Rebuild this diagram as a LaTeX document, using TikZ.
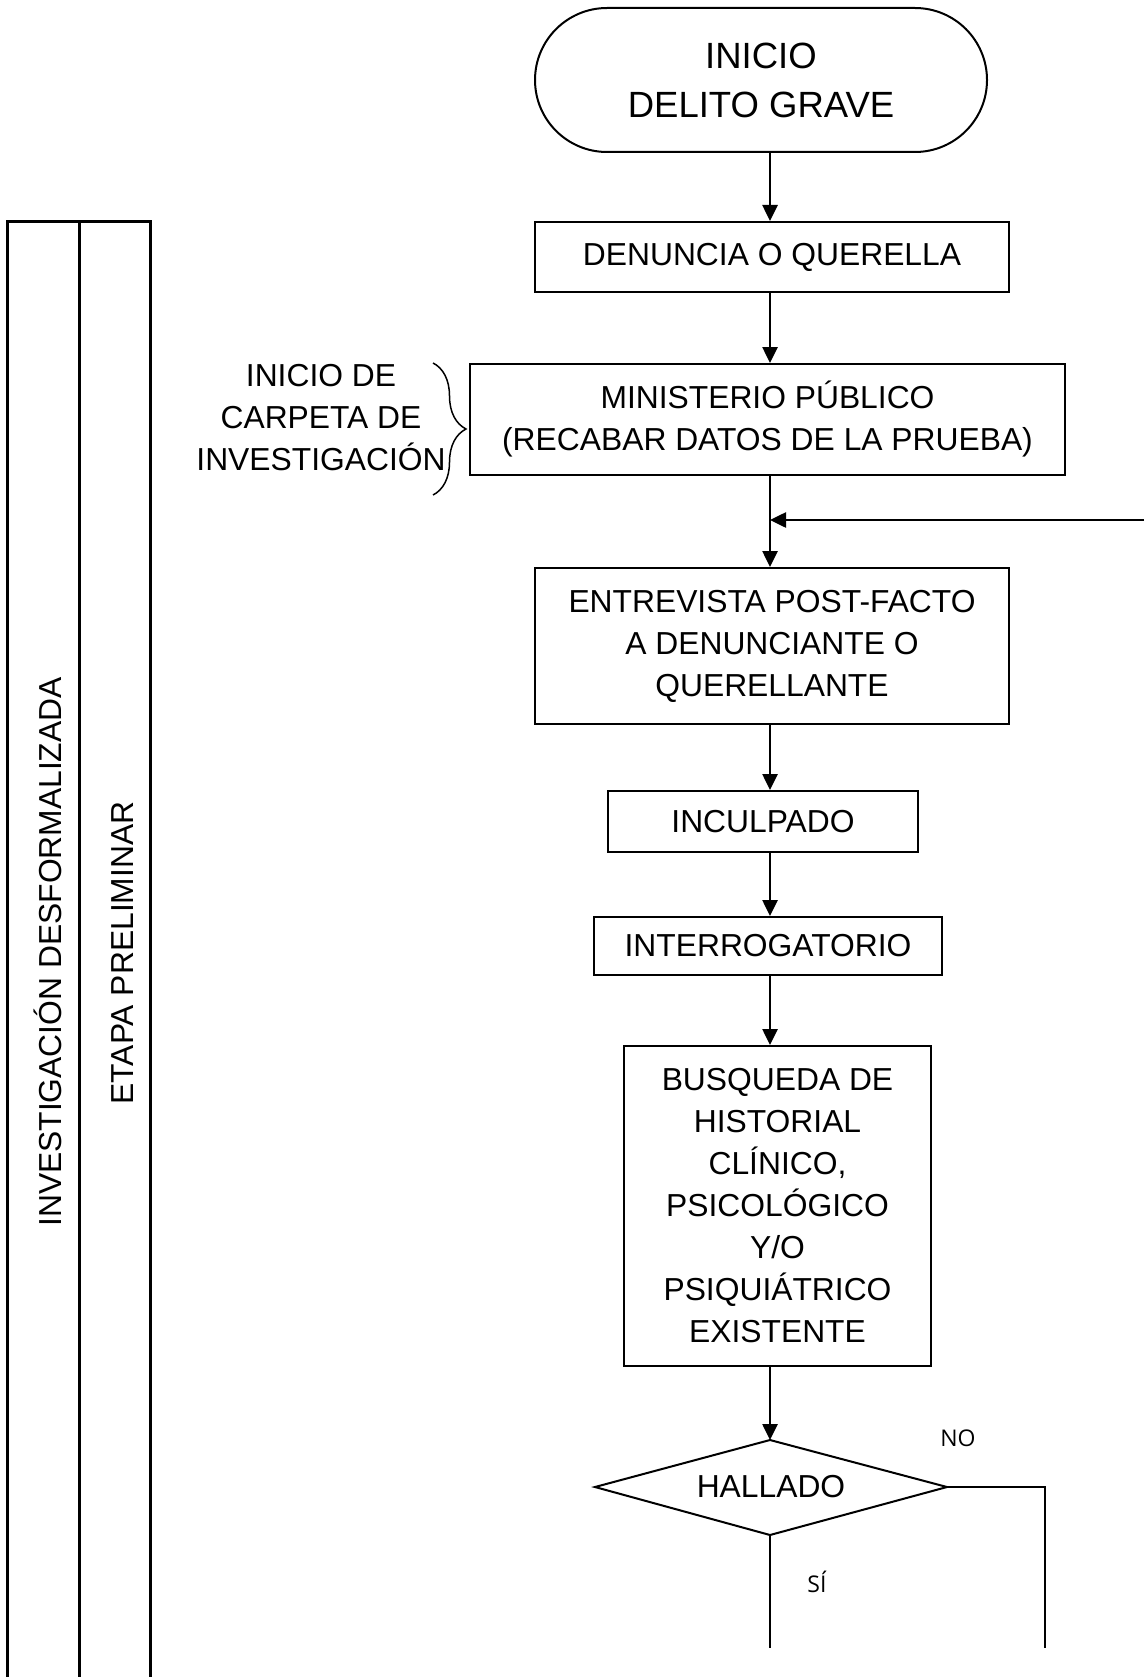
\documentclass[tikz,border=0pt]{standalone}
\usepackage{fontspec}
\setmainfont{Liberation Sans}
\newfontfamily\smallfont{Open Sans}
\usetikzlibrary{arrows.meta,decorations.pathreplacing}
\begin{document}
\begin{tikzpicture}[x=1pt,y=-1pt,
  box/.style={draw,line width=2pt,inner sep=0pt,align=center,font=\fontsize{31.8}{42}\selectfont},
  arr/.style={line width=2.6pt,-{Triangle[length=16pt,width=15pt]}},
  conn/.style={line width=2pt},
  lbl/.style={font=\fontsize{31.8}{42}\selectfont,align=center,inner sep=0pt},
  small/.style={font=\smallfont\fontsize{23}{28}\selectfont,inner sep=0pt}]
\useasboundingbox (0,0) rectangle (1144,1677);
% swimlane columns
\draw[line width=3pt] (7,1677) -- (7,222) -- (150,222) -- (150,1677);
\draw[line width=3pt] (79,222) -- (79,1677);
\node[lbl,rotate=90] (lane1) at (48,952) {INVESTIGACIÓN DESFORMALIZADA};
\node[lbl,rotate=90] (lane2) at (123,953) {ETAPA PRELIMINAR};
% nodes
\node[box,rounded corners=72pt,minimum width=452pt,minimum height=144pt,
  font=\fontsize{36.5}{49}\selectfont] (term) at (761,80) {INICIO\\DELITO GRAVE};
\node[box,minimum width=474pt,minimum height=70pt] (den) at (772,257) {DENUNCIA O QUERELLA};
\node[box,minimum width=595pt,minimum height=111pt] (mp) at (767.5,419.5) {MINISTERIO PÚBLICO\\(RECABAR DATOS DE LA PRUEBA)};
\node[box,minimum width=474pt,minimum height=156pt] (ent) at (772,646) {ENTREVISTA POST-FACTO\\A DENUNCIANTE O\\QUERELLANTE};
\node[box,minimum width=310pt,minimum height=61pt] (inc) at (763,821.5) {INCULPADO};
\node[box,minimum width=348pt,minimum height=58pt] (int) at (768,946) {INTERROGATORIO};
\node[box,minimum width=307pt,minimum height=320pt] (bus) at (777.5,1206) {BUSQUEDA DE\\HISTORIAL\\CLÍNICO,\\PSICOLÓGICO\\Y/O\\PSIQUIÁTRICO\\EXISTENTE};
% decision diamond
\coordinate (dl) at (595,1487);
\coordinate (dt) at (770,1440);
\coordinate (dr) at (947,1487);
\coordinate (db) at (770,1535);
\draw[conn] (dl) -- (dt) -- (dr) -- (db) -- cycle;
\node[lbl] (hal) at (771,1487) {HALLADO};
% side label with brace
\node[lbl] (carp) at (321,418) {INICIO DE\\CARPETA DE\\INVESTIGACIÓN};
\coordinate (bt) at (433,363);
\coordinate (bb) at (433,495);
\draw[line width=1.5pt,decorate,decoration={brace,amplitude=33pt}] (bt) -- (bb);
% main axis connectors
\coordinate (ax) at (770,0);
\draw[arr] (term.south -| ax) -- (den.north -| ax);
\draw[arr] (den.south -| ax) -- (mp.north -| ax);
\draw[arr] (mp.south -| ax) -- (ent.north -| ax);
\draw[arr] (ent.south -| ax) -- (inc.north -| ax);
\draw[arr] (inc.south -| ax) -- (int.north -| ax);
\draw[arr] (int.south -| ax) -- (bus.north -| ax);
\draw[arr] (bus.south -| ax) -- (dt);
% incoming loop
\coordinate (ein) at (1144,520);
\coordinate (ejn) at (770,520);
\draw[arr] (ein) -- (ejn);
% branches
\coordinate (noend) at (1045,1648);
\coordinate (siend) at (770,1648);
\draw[conn] (dr) -- (noend |- dr) -- (noend);
\draw[conn] (db) -- (siend);
\node[small] (no) at (958,1438) {NO};
\node[small] (si) at (817,1582) {SÍ};
\end{tikzpicture}
\end{document}
